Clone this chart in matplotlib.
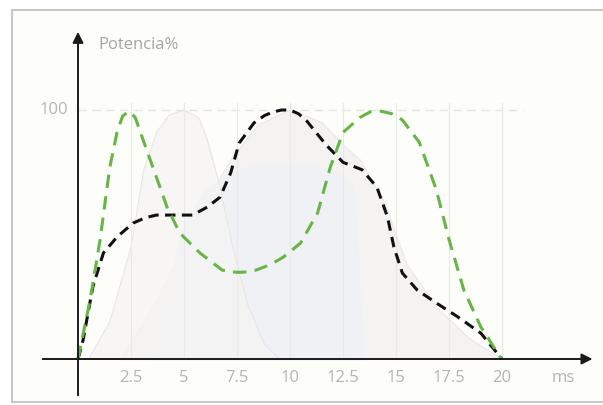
import matplotlib.pyplot as plt
from matplotlib.patches import Rectangle

# data (x in ms, y in %)
greenX = [0, 0.57, 1.04, 1.5, 1.84, 2.1, 2.4, 2.7, 3.07, 3.7, 4.2, 4.8, 5.75, 6.8, 7.2,
          7.6, 8.0, 8.4, 9.1, 9.7, 10.5, 11.3, 11.9, 12.5, 13.3, 13.8, 14.3, 14.8, 15.3,
          16.1, 16.9, 17.5, 18.2, 19.0, 19.9, 20]
greenY = [0, 23.7, 47.8, 77, 91, 97.5, 99.5, 97, 88, 73, 61, 50.6, 42.6, 35.7, 35,
          34.8, 35, 35.7, 38, 41, 46.6, 58.6, 77, 91, 97, 99.3, 99.5, 98.5, 96,
          87, 68, 48, 27.7, 12.9, 1, 0]

blackX = [0, 0.24, 0.7, 1.2, 1.84, 2.6, 3.2, 3.7, 4.8, 5.4, 6.1, 6.7, 7.2, 7.6, 8.3, 8.8,
          9.2, 9.6, 10.0, 10.4, 10.8, 11.7, 12.5, 13.4, 14.1, 14.6, 14.9, 15.3, 16.0,
          16.9, 17.9, 19.0, 19.9, 20]
blackY = [0, 7.6, 29, 42.6, 49, 54.6, 56.8, 57.8, 57.8, 57.8, 61, 65, 74.7, 86.7, 94.8, 97.8,
          99.2, 100, 100, 98.5, 95.5, 86, 79, 76, 69, 57, 45, 34.5, 27.7,
          22.5, 17, 10.4, 1, 0]

# faint background shapes
bumpAX = [0.5, 1.5, 2.5, 3.1, 3.7, 4.3, 5, 5.7, 6.1, 6.7, 7.3, 8, 8.8, 9.5]
bumpAY = [0, 15, 45, 76, 91, 98, 100, 97, 88, 69, 45, 22, 6, 0]
bumpBX = [2, 3.5, 5, 6, 7.2, 8.5, 10, 11.5, 12.5, 13.3, 14.5, 15.5, 17, 18.5, 20]
bumpBY = [0, 20, 45, 62, 80, 94, 100, 95, 86, 80, 62, 38, 20, 8, 0]
blueX = [3.5, 5, 6, 7, 8, 9, 10, 11, 12, 13, 13.5]
blueY = [0, 55, 68, 74, 77, 78, 78, 78, 76, 70, 0]

tickVals = [2.5, 5, 7.5, 10, 12.5, 15, 17.5, 20]
tickLabels = ["2.5", "5", "7.5", "10", "12.5", "15", "17.5", "20"]

pxX = 21.2
pxY = 2.49
labelFont = "Open Sans"

fig = plt.figure(figsize=(6.03, 4.05), dpi=100)
fig.patch.set_facecolor("white")

ax = fig.add_axes([0, 0, 1, 1])
ax.set_xlim(-78 / pxX, 525 / pxX)
ax.set_ylim(-46 / pxY, 359 / pxY)
ax.axis("off")

ax.add_patch(Rectangle((12 / 603, 3 / 405), 1.2, 392 / 405, transform=fig.transFigure,
                       facecolor="#fdfdf9", edgecolor="#c8c8c8", lw=1.5, zorder=0,
                       clip_on=False))

# background shapes
ax.fill_between(bumpBX, bumpBY, color="#f5f3f2", zorder=1)
ax.plot(bumpBX, bumpBY, color="#e8e6e6", lw=0.6, zorder=1)
ax.fill_between(blueX, blueY, color="#f0f1f5", zorder=1)
ax.fill_between(bumpAX, bumpAY, color="#f6f4f3", alpha=0.7, zorder=1)
ax.plot(bumpAX, bumpAY, color="#e4e2e2", lw=0.6, zorder=1)

# grid
ax.plot([0, 21], [100, 100], color="#e4e4e4", lw=1.0, linestyle=(0, (6, 4)), zorder=2)
for tv in tickVals:
    ax.plot([tv, tv], [0, 103], color="#e8e8e8", lw=0.8, zorder=2)

# curves
ax.plot(blackX, blackY, color="#111111", lw=2.2, linestyle=(0, (3.4, 2.1)), zorder=4)
ax.plot(greenX, greenY, color="#67b548", lw=2.2, linestyle=(0, (4.4, 2.7)), zorder=5)

# axes arrows
ax.annotate("", xy=(24.4, 0), xytext=(-1.8, 0),
            arrowprops=dict(arrowstyle="-|>", color="#1a1a1a", lw=1.4, mutation_scale=16), zorder=6)
ax.annotate("", xy=(0, 132.5), xytext=(0, -15.7),
            arrowprops=dict(arrowstyle="-|>", color="#1a1a1a", lw=1.4, mutation_scale=16), zorder=6)

for tv, tl in zip(tickVals, tickLabels):
    ax.text(tv, -7.8, tl, ha="center", va="center", fontsize=12, color="#b4b4b4",
            family=labelFont)
ax.text(22.9, -7.8, "ms", ha="center", va="center", fontsize=12, color="#b4b4b4",
        family=labelFont)
ax.text(-0.45, 100, "100", ha="right", va="center", fontsize=12, color="#b4b4b4",
        family=labelFont)
ax.text(0.95, 126, "Potencia%", ha="left", va="center", fontsize=12, color="#a4a4a4",
        family=labelFont)

fig.savefig("out.png", dpi=100)
